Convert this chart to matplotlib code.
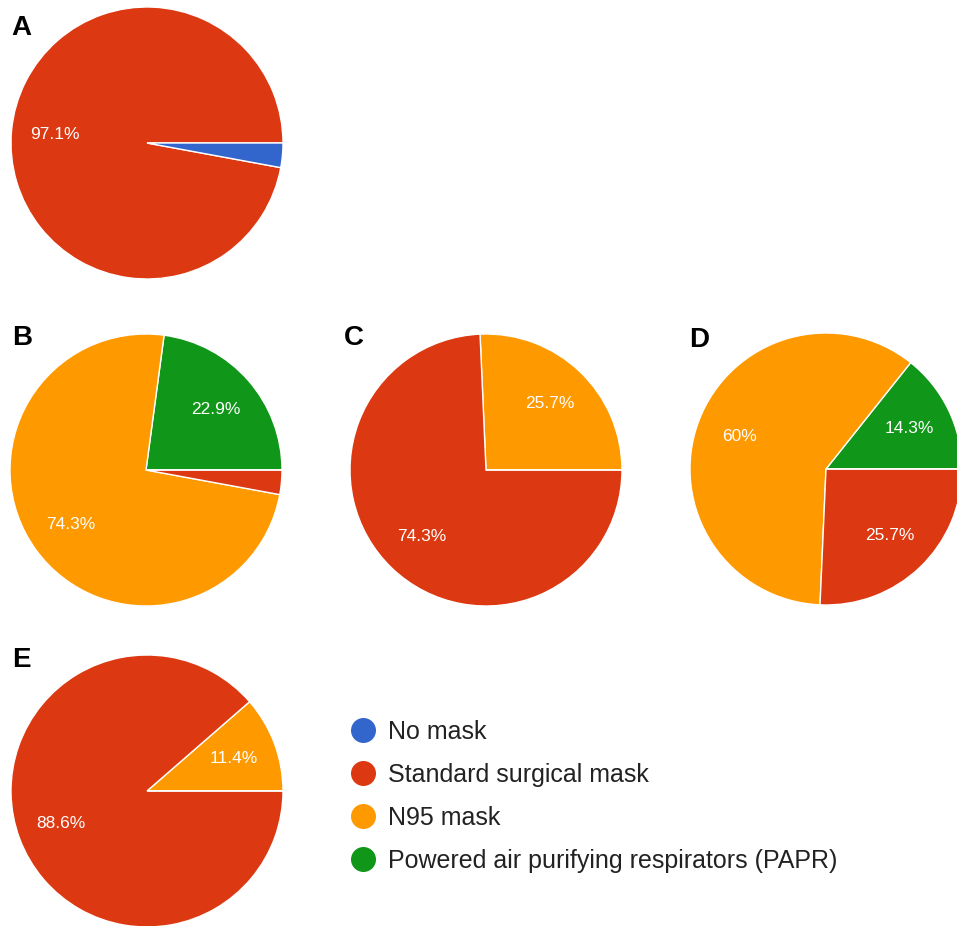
import matplotlib
matplotlib.use("Agg")
import matplotlib.pyplot as plt
from matplotlib.lines import Line2D

plt.rcParams['font.family'] = ['Liberation Sans', 'DejaVu Sans']

# categories, in the order the slices go round (anticlockwise from 3 o'clock)
categories = ["Powered air purifying respirators (PAPR)", "N95 mask",
              "Standard surgical mask", "No mask"]
colors = ["#109618", "#FF9900", "#DC3912", "#3366CC"]

# percentage per panel, same order as categories
panel_A = [0.0, 0.0, 97.1, 2.9]
panel_B = [22.9, 74.3, 2.9, 0.0]
panel_C = [0.0, 25.7, 74.3, 0.0]
panel_D = [14.3, 60.0, 25.7, 0.0]
panel_E = [0.0, 11.4, 88.6, 0.0]

legend_order = ["No mask", "Standard surgical mask", "N95 mask",
                "Powered air purifying respirators (PAPR)"]

W, H = 957, 926
fig = plt.figure(figsize=(W / 100, H / 100), dpi=100)

R = 136  # pie radius in pixels


def pie_axes(cx, cy):
    return fig.add_axes([(cx - R) / W, (H - cy - R) / H, 2 * R / W, 2 * R / H])


def label_maker(vals):
    # autopct is called once per wedge, in order; show the given values
    it = iter(vals)

    def fmt(p):
        v = next(it)
        if v < 5:
            return ""
        return "%g%%" % v
    return fmt


# letter, values, pie centre (px), letter top-left (px)
panels = [
    ("A", panel_A, (147, 143), (12, 15)),
    ("B", panel_B, (146, 470), (13, 325)),
    ("C", panel_C, (486, 470), (345, 325)),
    ("D", panel_D, (826, 469), (690, 327)),
    ("E", panel_E, (147, 791), (13, 647)),
]

for letter, vals, (cx, cy), (lx, ly) in panels:
    ax = pie_axes(cx, cy)
    ax.pie(vals, colors=colors, startangle=0, counterclock=True,
           radius=1.0, autopct=label_maker(vals), pctdistance=0.68,
           wedgeprops=dict(edgecolor="white", linewidth=1.0),
           textprops=dict(color="white", fontsize=12.5))
    ax.set_xlim(-1, 1)
    ax.set_ylim(-1, 1)
    ax.set_aspect("equal")
    ax.axis("off")
    fig.text((lx - 1) / W, 1 - ly / H, letter, fontsize=20,
             fontweight="bold", va="top", ha="left")

handles = [Line2D([], [], linestyle="none", marker="o", markersize=18,
                  markerfacecolor=colors[categories.index(c)],
                  markeredgecolor="none") for c in legend_order]
fig.legend(handles, legend_order, loc="upper left",
           bbox_to_anchor=(350 / W, 1 - 720 / H), frameon=False,
           fontsize=18, handlelength=1.0, handletextpad=0.5,
           labelspacing=0.76, borderpad=0, borderaxespad=0,
           labelcolor="#222222")

fig.savefig("out.png", dpi=100)
